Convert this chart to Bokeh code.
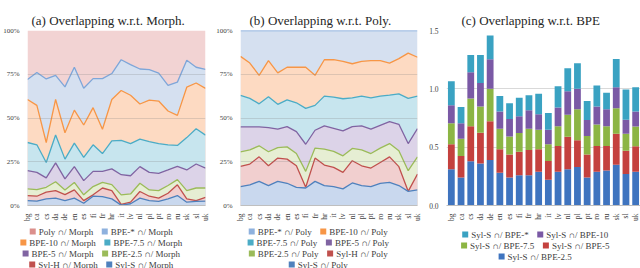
from math import pi
from bokeh.plotting import figure
from bokeh.models import Range1d, FixedTicker, ColumnDataSource
from bokeh.core.properties import value
from bokeh.layouts import row, column
from bokeh.embed import file_html
from bokeh.resources import INLINE

FONT = "Liberation Serif"

langs = ["bg", "ca", "cs", "da", "de", "en", "es", "fi", "fr", "hr",
         "it", "lv", "nl", "pl", "pt", "ro", "ru", "sk", "sl", "uk"]

# (a) Overlapping w.r.t. Morph. (percent)
morph_poly = [100] * 20
morph_bpe_star = [72, 76, 72.3, 74.4, 67.8, 79, 67, 72.5, 72.5, 75.4, 83.3, 80.5, 78, 77.7, 75.7, 68.6, 70.5, 83, 79, 77.8]
morph_bpe10 = [60.6, 57.2, 36, 60.6, 41.6, 54.5, 46, 55.9, 43.6, 60.6, 65.7, 63, 58, 60.2, 59.7, 54, 51.5, 67.6, 70, 66.9]
morph_bpe75 = [36, 34.7, 24.6, 40.3, 26.5, 35.6, 27.5, 34.7, 29.7, 36.9, 37.2, 35.4, 37.9, 36.5, 35.4, 34.7, 34.3, 38.8, 43.9, 40.2]
morph_bpe5 = [19.9, 18.9, 15.8, 24.4, 15.2, 22.2, 14.2, 19.5, 19.5, 20.9, 17.6, 17, 22.2, 18.9, 18.4, 20.3, 22.3, 20.3, 23.7, 21.4]
morph_bpe25 = [9.5, 9.1, 10.4, 13.6, 8.9, 13.2, 6.1, 10.8, 13.2, 11.9, 6.1, 6.6, 12.7, 8.9, 8.5, 11.4, 14.8, 8.5, 10, 10]
morph_sylh = [5.7, 5.3, 7.6, 8.5, 6.2, 8.9, 2.8, 6.1, 10, 8.5, 0.6, 1.9, 8, 5.3, 4.2, 7, 11.8, 3.8, 2.8, 4.7]
morph_syls = [2.8, 2.5, 3.8, 4.2, 2.8, 4.2, 1.3, 5.3, 5.1, 3.8, 0.2, 1, 4.2, 2.8, 2.3, 3.8, 5.7, 1.9, 2.3, 2.5]

# (b) Overlapping w.r.t. Poly. (percent)
poly_bpe_star = [100] * 20
poly_bpe10 = [85.2, 81.4, 74.4, 82.8, 75.8, 79, 79, 79, 74.4, 83.3, 83.3, 82.4, 81, 82.4, 82.8, 82.8, 81.4, 83.9, 87.1, 84.7]
poly_bpe75 = [62.9, 61.2, 58.1, 62.1, 57.8, 60.4, 58.7, 55.5, 57.2, 62.5, 61.9, 61, 61.5, 62.5, 61.5, 62.5, 63.1, 63.8, 61.2, 62.5]
poly_bpe5 = [44.9, 44.9, 44.9, 44.5, 43.6, 45.1, 42.2, 35, 43, 45.5, 44.1, 42.6, 45.1, 45.5, 43.6, 45.8, 47.9, 46.4, 35.4, 43.9]
poly_bpe25 = [30.7, 31.8, 34.1, 30.7, 33.1, 33.5, 29.7, 19.5, 32.8, 32.2, 30.9, 28.4, 32.6, 31.8, 29.7, 32.8, 35.4, 31.3, 19.9, 27.8]
poly_sylh = [22.3, 23.7, 27.8, 22.7, 27.1, 26.5, 22.7, 10.4, 27.1, 23.1, 21.8, 18.9, 25.6, 22.7, 21.4, 24.6, 27.8, 22.2, 8.1, 18]
poly_syls = [10.8, 11.8, 13.8, 11.4, 13.8, 12.7, 10.4, 10, 13.8, 11.4, 10.8, 9.5, 12.9, 11.4, 10.8, 12.7, 13.2, 11.4, 8.1, 8.9]

# (c) Overlapping w.r.t. BPE (stacked segments, bottom to top)
bpe_syl_25 = [0.31, 0.24, 0.38, 0.36, 0.39, 0.28, 0.24, 0.26, 0.26, 0.29, 0.22, 0.29, 0.31, 0.33, 0.24, 0.29, 0.30, 0.35, 0.27, 0.29]
bpe_syl_5 = [0.215, 0.184, 0.30, 0.263, 0.332, 0.203, 0.198, 0.201, 0.215, 0.193, 0.162, 0.221, 0.28, 0.23, 0.198, 0.221, 0.211, 0.265, 0.199, 0.218]
bpe_syl_75 = [0.18, 0.149, 0.238, 0.225, 0.278, 0.174, 0.154, 0.16, 0.182, 0.166, 0.143, 0.169, 0.188, 0.266, 0.157, 0.183, 0.169, 0.219, 0.146, 0.169]
bpe_syl_10 = [0.154, 0.132, 0.225, 0.202, 0.253, 0.149, 0.149, 0.143, 0.16, 0.134, 0.124, 0.16, 0.202, 0.174, 0.138, 0.154, 0.146, 0.179, 0.12, 0.129]
bpe_syl_star = [0.205, 0.14, 0.146, 0.239, 0.204, 0.132, 0.135, 0.16, 0.129, 0.175, 0.143, 0.182, 0.197, 0.219, 0.163, 0.18, 0.14, 0.242, 0.259, 0.207]

# legend labels
legend_a = [["Poly ∩/ Morph", "BPE-* ∩/ Morph"], ["BPE-10 ∩/ Morph", "BPE-7.5 ∩/ Morph"],
            ["BPE-5 ∩/ Morph", "BPE-2.5 ∩/ Morph"], ["Syl-H ∩/ Morph", "Syl-S ∩/ Morph"]]
legend_b = [["BPE-* ∩/ Poly", "BPE-10 ∩/ Poly"], ["BPE-7.5 ∩/ Poly", "BPE-5 ∩/ Poly"],
            ["BPE-2.5 ∩/ Poly", "Syl-H ∩/ Poly"], ["Syl-S ∩/ Poly"]]
legend_c = [["Syl-S ∩/ BPE-*", "Syl-S ∩/ BPE-10"], ["Syl-S ∩/ BPE-7.5", "Syl-S ∩/ BPE-5"],
            ["Syl-S ∩/ BPE-2.5"]]

xs = list(range(len(langs)))

C_RED, C_BLUE, C_ORANGE, C_TEAL = "#C0504D", "#4F81BD", "#F79646", "#4BACC6"
C_PURPLE, C_GREEN, C_LBLUE = "#8064A2", "#9BBB59", "#7EA6D9"
B_BLUE, B_RED, B_GREEN, B_PURPLE, B_TEAL = "#3F74BF", "#C4413E", "#8CB544", "#7A59A5", "#3AA2C2"

MAIN_H = 224
LEG_H = 44


def base_fig(title, width, left, right, top, bottom, x_range, y_range, toff):
    p = figure(width=width, height=MAIN_H, output_backend="svg", toolbar_location=None,
               x_range=x_range, y_range=y_range, title=title,
               min_border_left=left, min_border_right=right,
               min_border_top=top, min_border_bottom=bottom)
    p.title.text_font = FONT
    p.title.text_font_size = "13px"
    p.title.text_font_style = "normal"
    p.title.text_color = "#262626"
    p.title.align = "left"
    p.title.standoff = 5
    p.title.offset = toff
    p.outline_line_color = None
    p.xgrid.visible = False
    p.xaxis.ticker = FixedTicker(ticks=xs)
    p.xaxis.major_label_overrides = {i: l for i, l in zip(xs, langs)}
    p.xaxis.major_label_orientation = pi / 2
    p.xaxis.major_label_text_font = FONT
    p.xaxis.major_label_text_font_size = "7.5px"
    p.xaxis.major_label_text_color = "#404040"
    p.xaxis.major_label_standoff = 2
    p.xaxis.axis_line_color = "#BFBFBF"
    p.yaxis.axis_line_color = None
    p.xaxis.major_tick_line_color = None
    p.yaxis.major_tick_line_color = None
    p.xaxis.minor_tick_line_color = None
    p.yaxis.minor_tick_line_color = None
    p.yaxis.major_label_text_font = FONT
    p.yaxis.major_label_text_font_size = "7px"
    p.yaxis.major_label_text_color = "#404040"
    p.yaxis.major_label_standoff = 2
    return p


def area_panel(p, series):
    for vals, fill, line in series:
        p.varea(x=xs, y1=0, y2=vals, fill_color=fill)
        if line is not None:
            p.line(x=xs, y=vals, line_color=line, line_width=1.3)
    p.yaxis.ticker = FixedTicker(ticks=[0, 25, 50, 75, 100])
    p.yaxis.major_label_overrides = {0: "0%", 25: "25%", 50: "50%", 75: "75%", 100: "100%"}
    p.ygrid.visible = False
    p.hspan(y=[25, 50, 75], line_color="#7F7F7F", line_alpha=0.25, line_width=1)


# approximate Times / Liberation Serif advance widths (per 1000 em)
CW = {' ': 250, '*': 500, '-': 333, '.': 250, '/': 278, 'B': 667, 'E': 611, 'H': 722,
      'M': 889, 'P': 556, 'S': 556, 'a': 444, 'e': 444, 'h': 500, 'l': 278, 'o': 500,
      'p': 500, 'r': 333, 'y': 500, '∩': 780}
FS = 9.0


def tw(s):
    return sum(CW.get(ch, 500) for ch in s) / 1000.0 * FS


def legend_fig(width, rows, colors, cx, ys):
    p = figure(width=width, height=LEG_H, output_backend="svg", toolbar_location=None,
               x_range=Range1d(0, width), y_range=Range1d(0, LEG_H),
               x_axis_type=None, y_axis_type=None, min_border=0)
    p.outline_line_color = None
    p.grid.visible = False
    sq, gap, sp = 6, 3, 8
    rx, ry, rc, tx, tyy, tt = [], [], [], [], [], []
    for r, crow, y in zip(rows, colors, ys):
        widths = [sq + gap + tw(lbl) for lbl in r]
        total = sum(widths) + sp * (len(r) - 1)
        x0 = cx - total / 2
        for lbl, c, w in zip(r, crow, widths):
            rx.append(x0 + sq / 2)
            ry.append(y)
            rc.append(c)
            tx.append(x0 + sq + gap)
            tyy.append(y)
            tt.append(lbl)
            x0 += w + sp
    p.rect(x=rx, y=ry, width=sq, height=sq, fill_color=rc, line_color=None)
    p.text(x=tx, y=tyy, text=tt, text_font=value(FONT), text_font_size="9px",
           text_baseline="middle", text_align="left", text_color="#404040")
    return p


# ---------- panel (a)
pa = base_fig("(a) Overlapping w.r.t. Morph.", 213, 21, 8, 29, 19,
              Range1d(0, 19), Range1d(0, 100), 4)
area_panel(pa, [
    (morph_poly, "#F2D3D3", None),
    (morph_bpe_star, "#D5E0F0", C_LBLUE),
    (morph_bpe10, "#FDDAC2", C_ORANGE),
    (morph_bpe75, "#C7E5EE", C_TEAL),
    (morph_bpe5, "#DCD3E8", C_PURPLE),
    (morph_bpe25, "#E6EED3", C_GREEN),
    (morph_sylh, "#F1CFCF", C_RED),
    (morph_syls, "#C9D8EE", C_BLUE),
])
la = legend_fig(213, legend_a,
                [["#DB8F8C", "#8EB1DE"], [C_ORANGE, C_TEAL], [C_PURPLE, C_GREEN], [C_RED, C_BLUE]],
                101, [37, 26, 15, 4])

# ---------- panel (b)
pb = base_fig("(b) Overlapping w.r.t. Poly.", 213, 23, 9, 29, 19,
              Range1d(0, 19), Range1d(0, 100), 9)
area_panel(pb, [
    (poly_bpe_star, "#D5E0F0", C_LBLUE),
    (poly_bpe10, "#FDDAC2", C_ORANGE),
    (poly_bpe75, "#C7E5EE", C_TEAL),
    (poly_bpe5, "#DCD3E8", C_PURPLE),
    (poly_bpe25, "#E6EED3", C_GREEN),
    (poly_sylh, "#F1CFCF", C_RED),
    (poly_syls, "#C9D8EE", C_BLUE),
])
lb = legend_fig(213, legend_b,
                [["#8EB1DE", C_ORANGE], [C_TEAL, C_PURPLE], [C_GREEN, C_RED], [C_BLUE]],
                105, [37, 26, 15, 4])

# ---------- panel (c)
pc = base_fig("(c) Overlapping w.r.t. BPE", 214, 20, 0, 30, 16,
              Range1d(-0.5, 19.5), Range1d(0, 1.5), 15)
src = ColumnDataSource(dict(x=xs, s25=bpe_syl_25, s5=bpe_syl_5, s75=bpe_syl_75,
                            s10=bpe_syl_10, sstar=bpe_syl_star))
pc.vbar_stack(["s25", "s5", "s75", "s10", "sstar"], x="x", width=0.7, source=src,
              fill_color=[B_BLUE, B_RED, B_GREEN, B_PURPLE, B_TEAL], line_color=None)
pc.yaxis.ticker = FixedTicker(ticks=[0, 0.5, 1.0, 1.5])
pc.yaxis.major_label_overrides = {0: "0.0", 0.5: "0.5", 1: "1.0", 1.5: "1.5"}
pc.yaxis.major_label_text_font_size = "7.5px"
pc.ygrid.ticker = FixedTicker(ticks=[0.5, 1.0, 1.5])
pc.ygrid.grid_line_color = "#D9D9D9"
lc = legend_fig(214, legend_c,
                [[B_TEAL, B_PURPLE], [B_GREEN, B_RED], [B_BLUE]],
                109, [34, 23, 12])

layout = column(row(pa, pb, pc, spacing=0), row(la, lb, lc, spacing=0), spacing=0)
open("out.html", "w").write(file_html(layout, INLINE))
